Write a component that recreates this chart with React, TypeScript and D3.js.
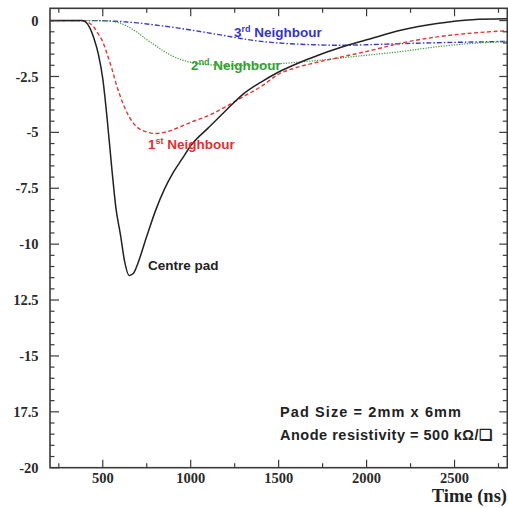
import React from "react";
import * as d3 from "d3";

// ---- data ----
const timeNs = [200, 300, 380, 400, 425, 450, 475, 500, 525, 550, 575, 600, 625, 650, 675, 700, 750, 800, 850, 900, 950, 1000, 1100, 1200, 1300, 1400, 1500, 1600, 1700, 1800, 1900, 2000, 2200, 2400, 2600, 2800];
const centrePad = [0, 0, 0, -0.05, -0.3, -0.8, -1.5, -2.6, -4.4, -6.5, -8.4, -9.55, -10.8, -11.4, -11.3, -10.85, -9.65, -8.5, -7.55, -6.8, -6.2, -5.6, -4.8, -4.02, -3.28, -2.75, -2.3, -1.94, -1.63, -1.34, -1.08, -0.86, -0.42, -0.13, 0.04, 0.08];
const neighbour1 = [0, 0, 0, -0.02, -0.12, -0.3, -0.6, -0.95, -1.5, -2.1, -2.8, -3.4, -3.9, -4.3, -4.6, -4.8, -4.98, -5.05, -5.0, -4.88, -4.72, -4.55, -4.25, -3.85, -3.4, -2.95, -2.4, -2.1, -1.9, -1.72, -1.55, -1.38, -1.0, -0.73, -0.56, -0.45];
const neighbour2 = [0, 0, 0, 0, 0, 0, 0, 0, -0.01, -0.03, -0.07, -0.12, -0.2, -0.3, -0.42, -0.55, -0.85, -1.12, -1.38, -1.6, -1.76, -1.87, -1.97, -2.0, -2.0, -1.98, -1.93, -1.87, -1.8, -1.72, -1.63, -1.55, -1.38, -1.17, -1.02, -0.94];
const neighbour3 = [0, 0, 0, 0, 0, 0, 0, -0.01, -0.015, -0.02, -0.03, -0.04, -0.055, -0.07, -0.085, -0.1, -0.15, -0.2, -0.25, -0.3, -0.36, -0.42, -0.55, -0.68, -0.82, -0.93, -1.0, -1.05, -1.08, -1.1, -1.1, -1.08, -1.03, -0.99, -0.96, -0.93];

const xMajorTicks = [500, 1000, 1500, 2000, 2500];
const yMajorTicks = [0, -2.5, -5, -7.5, -10, -12.5, -15, -17.5, -20];
// tick labels as they appear in the reference (two are cut at the left edge)
const yTickLabels = ["0", "-2.5", "-5", "-7.5", "-10", "12.5", "-15", "17.5", "-20"];

const W = 508;
const H = 508;
const left = 50, right = 507.3, top = 8.3, bottom = 467.7;

const x = d3.scaleLinear().domain([200, 2800]).range([left, right]);
const y = d3.scaleLinear().domain([-20, 0.55]).range([bottom, top]);

const xMinor = d3.range(250, 2800, 250).filter((v) => v % 500 !== 0);
const yMinor = d3.range(0, -20.01, -0.5).filter((v) => Math.abs(v / 2.5 - Math.round(v / 2.5)) > 1e-6);

function path(vals: number[]) {
  const pts = timeNs.map((t, i) => [t, vals[i]] as [number, number]);
  return d3
    .line<[number, number]>()
    .x((d) => x(d[0]))
    .y((d) => y(d[1]))
    .curve(d3.curveMonotoneX)(pts) as string;
}

const frame = "#3a3a3a";
const serif = "'Liberation Serif', 'Times New Roman', serif";
const sans = "'Liberation Sans', Arial, Helvetica, sans-serif";

export default function App() {
  return (
    <svg width={W} height={H} style={{ position: "absolute", left: 0, top: 0, background: "#fff" }}>
      <rect x={0} y={0} width={W} height={H} fill="#fff" />
      {/* curves */}
      <path d={path(neighbour3)} fill="none" stroke="#3a3ac8" strokeWidth={1.4} strokeDasharray="5 2 1.5 2" />
      <path d={path(neighbour2)} fill="none" stroke="#3f9f3f" strokeWidth={1.2} strokeDasharray="1.3 1.3" />
      <path d={path(neighbour1)} fill="none" stroke="#e03838" strokeWidth={1.4} strokeDasharray="4 2.5" />
      <path d={path(centrePad)} fill="none" stroke="#222" strokeWidth={1.5} />

      {/* frame */}
      <rect x={left} y={top} width={right - left} height={bottom - top} fill="none" stroke={frame} strokeWidth={1.6} />

      {/* x ticks (bottom & top) */}
      {xMajorTicks.map((t) => (
        <g key={"xm" + t}>
          <line x1={x(t)} x2={x(t)} y1={bottom} y2={bottom - 8} stroke={frame} strokeWidth={1.2} />
          <line x1={x(t)} x2={x(t)} y1={top} y2={top + 8} stroke={frame} strokeWidth={1.2} />
          <text x={x(t)} y={482.5} textAnchor="middle" fontFamily={serif} fontWeight="bold" fontSize={14.5} fill="#2a2a2a">
            {t}
          </text>
        </g>
      ))}
      {xMinor.map((t) => (
        <g key={"xn" + t}>
          <line x1={x(t)} x2={x(t)} y1={bottom} y2={bottom - 4.5} stroke={frame} strokeWidth={1.2} />
          <line x1={x(t)} x2={x(t)} y1={top} y2={top + 4.5} stroke={frame} strokeWidth={1.2} />
        </g>
      ))}

      {/* y ticks (left & right) */}
      {yMajorTicks.map((v, i) => (
        <g key={"ym" + v}>
          <line x1={left} x2={left + 9} y1={y(v)} y2={y(v)} stroke={frame} strokeWidth={1.2} />
          <line x1={right} x2={right - 8} y1={y(v)} y2={y(v)} stroke={frame} strokeWidth={1.2} />
          <text x={38.5} y={y(v)} dy="0.35em" textAnchor="end" fontFamily={serif} fontWeight="bold" fontSize={14.5} fill="#2a2a2a">
            {yTickLabels[i]}
          </text>
        </g>
      ))}
      {yMinor.map((v) => (
        <g key={"yn" + v}>
          <line x1={left} x2={left + 4.5} y1={y(v)} y2={y(v)} stroke={frame} strokeWidth={1.2} />
          <line x1={right} x2={right - 4.5} y1={y(v)} y2={y(v)} stroke={frame} strokeWidth={1.2} />
        </g>
      ))}

      {/* axis title */}
      <text x={507} y={502} textAnchor="end" fontFamily={serif} fontWeight="bold" fontSize={18.5} fill="#222">
        Time (ns)
      </text>

      {/* curve labels */}
      <text x={234} y={36.5} fontFamily={sans} fontWeight="bold" fontSize={13.5} fill="#3535c8">
        3<tspan dy={-5} fontSize={9}>rd</tspan>
        <tspan dy={5}> Neighbour</tspan>
      </text>
      <text x={191} y={70} fontFamily={sans} fontWeight="bold" fontSize={13.5} fill="#33a033">
        2<tspan dy={-5} fontSize={9}>nd</tspan>
        <tspan dy={5}> Neighbour</tspan>
      </text>
      <text x={148} y={148.5} fontFamily={sans} fontWeight="bold" fontSize={13.5} fill="#e03030">
        1<tspan dy={-5} fontSize={9}>st</tspan>
        <tspan dy={5}> Neighbour</tspan>
      </text>
      <text x={148} y={270} fontFamily={sans} fontWeight="bold" fontSize={13.5} fill="#222">
        Centre pad
      </text>

      {/* info box */}
      <text x={280} y={417} fontFamily={sans} fontWeight="bold" fontSize={14.5} fill="#222" textLength={181} lengthAdjust="spacing">
        Pad Size = 2mm x 6mm
      </text>
      <text x={280} y={440} fontFamily={sans} fontWeight="bold" fontSize={14.5} fill="#222" textLength={212} lengthAdjust="spacing">
        Anode resistivity = 500 kΩ/❏
      </text>
    </svg>
  );
}
